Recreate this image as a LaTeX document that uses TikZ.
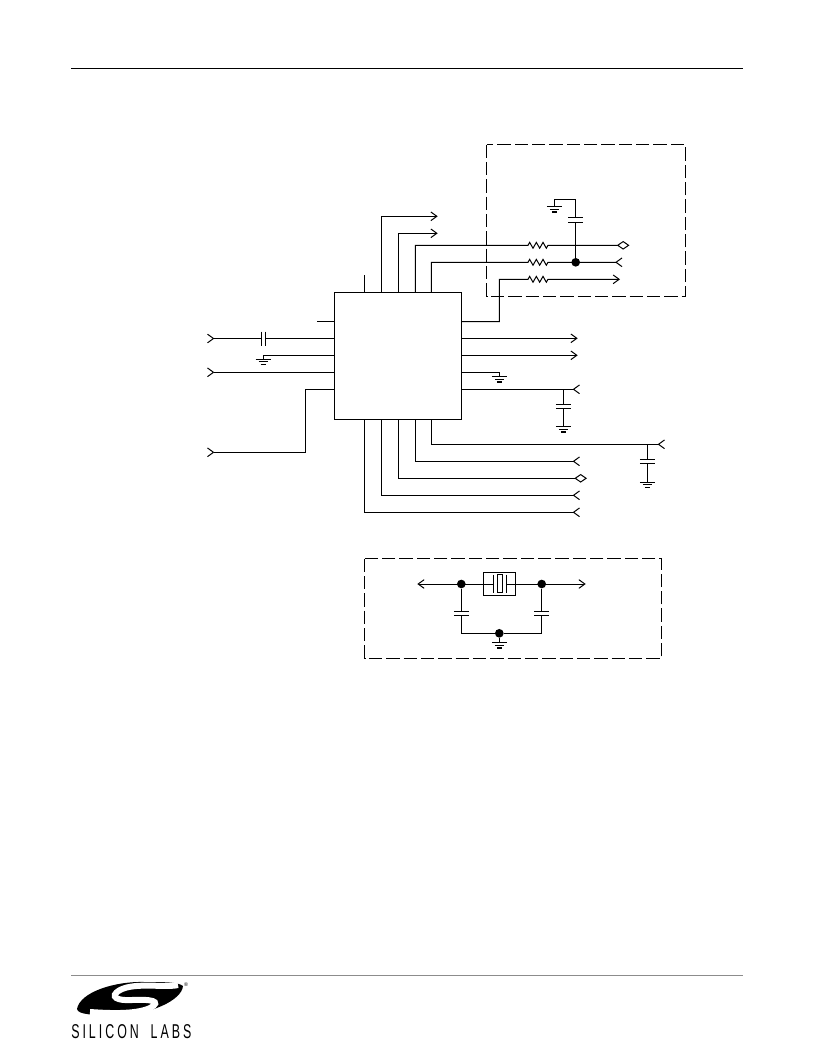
\documentclass[tikz,border=0pt]{standalone}
\usepackage{fontspec}
\setmainfont{Liberation Sans}
\newfontfamily\logofont[LetterSpace=15,FakeStretch=0.62]{Liberation Sans}
\usetikzlibrary{arrows.meta,decorations.pathmorphing,positioning,shapes.geometric}
\tikzset{
wire/.style={
  line width=0.75pt,
  },
outarrow/.style={
  wire,
  -{Straight Barb[length=4.5pt,width=6.5pt,line width=0.75pt]},
  },
inarrow/.style={
  wire,
  -{Straight Barb[reversed,length=4.5pt,width=6.5pt,line width=0.75pt]},
  },
bidiarrow/.style={
  wire,
  -{Diamond[open,length=9.5pt,width=6.5pt,line width=0.75pt]},
  },
chipbox/.style={
  rectangle,
  draw=black,
  line width=0.75pt,
  minimum width=95.8pt,
  minimum height=95.3pt,
  inner sep=0pt,
  },
dashbox/.style={
  draw=black,
  line width=0.75pt,
  dash pattern=on 10pt off 3pt,
  },
junction/.style={
  circle,
  fill=black,
  inner sep=0pt,
  minimum size=6.5pt,
  },
resistor/.style={
  decorate,
  decoration={zigzag,amplitude=2.2pt,segment length=5pt},
  },
gnd/.pic={
  \draw[wire] (-7.5,0) -- (7.5,0) (-4.5,2.7) -- (4.5,2.7);
  \draw[line width=1pt] (-2.5,5.4) -- (2.5,5.4);
  },
capv/.pic={
  \fill[white] (-7.5,-2.2) rectangle (7.5,2.2);
  \draw[wire] (-7.5,-2.2) -- (7.5,-2.2) (-7.5,2.2) -- (7.5,2.2);
  },
caph/.pic={
  \fill[white] (-2,-7) rectangle (2,7);
  \draw[wire] (-2,-7) -- (-2,7) (2,-7) -- (2,7);
  },
}

\begin{document}
\begin{tikzpicture}[x=0.75pt,y=-0.75pt]
    \useasboundingbox (0,0) rectangle (816,1056);

    % page rules
    \coordinate (ruletopl) at (71,69);
    \coordinate (ruletopr) at (743,69);
    \coordinate (rulebotl) at (71,975);
    \coordinate (rulebotr) at (743,975);
    \draw[line width=0.75pt] (ruletopl) -- (ruletopr);
    \draw[line width=0.75pt, color=black!45] (rulebotl) -- (rulebotr);

    % dashed boxes
    \draw[dashbox] (486.5,144.5) rectangle (685,296);
    \draw[dashbox] (364.5,558.7) rectangle (661.7,658.3);

    % chip
    \node[chipbox] (chip) at (398,356) {};
    \coordinate (pint1) at (364.3,292.5);
    \coordinate (pint2) at (381.3,292.5);
    \coordinate (pint3) at (398.3,292.5);
    \coordinate (pint4) at (415.3,292.5);
    \coordinate (pint5) at (431.3,292.5);
    \coordinate (pinb1) at (364.3,419.5);
    \coordinate (pinb2) at (381.3,419.5);
    \coordinate (pinb3) at (398.3,419.5);
    \coordinate (pinb4) at (415.3,419.5);
    \coordinate (pinb5) at (431.3,419.5);

    % left part
    \coordinate (nc1) at (317,321.5);
    \coordinate (inl1) at (207,338.5);
    \coordinate (gndl) at (263,359);
    \coordinate (gndlp) at (263,355.5);
    \coordinate (inl2) at (207,372.3);
    \coordinate (inl3) at (207,452.3);
    \coordinate (inl3k) at (305.3,452.3);
    \coordinate (pinl5) at (334.2,389.3);
    \draw[wire] (chip.west |- nc1) -- (nc1);
    \draw[inarrow] (chip.west |- inl1) -- (inl1);
    \draw[wire] (chip.west |- gndlp) -- (gndlp) -- (gndl);
    \draw[inarrow] (chip.west |- inl2) -- (inl2);
    \draw[inarrow] (pinl5) -| (inl3k) -- (inl3);
    \pic (capl) at (263,338.5) {caph};
    \pic (gnda) at (gndl) {gnd};

    % top part
    \coordinate (nc2) at (364.3,275);
    \coordinate (outt1) at (437.7,216.3);
    \coordinate (outt2) at (437.7,233.3);
    \draw[wire] (pint1) -- (nc2);
    \draw[outarrow] (pint2) |- (outt1);
    \draw[outarrow] (pint3) |- (outt2);

    % termination box
    \coordinate (res1a) at (528,245.3);
    \coordinate (res1b) at (548,245.3);
    \coordinate (res2a) at (528,262.3);
    \coordinate (res2b) at (548,262.3);
    \coordinate (res3a) at (528,279.3);
    \coordinate (res3b) at (548,279.3);
    \coordinate (term1) at (629.5,245.3);
    \coordinate (term2) at (622.5,262.3);
    \coordinate (term3) at (620,279.3);
    \coordinate (pinr1) at (461.7,321.5);
    \coordinate (gndr) at (554.3,206.7);
    \coordinate (capk) at (575.7,199.3);
    \node[junction] (jterm) at (575.7,262.3) {};
    \draw[bidiarrow] (pint4) |- (res1a) decorate[resistor] {-- (res1b)} -- (term1);
    \draw[inarrow] (pint5) |- (res2a) decorate[resistor] {-- (res2b)} -- (term2);
    \draw[outarrow] (pinr1) -| (499.3,279.3) -- (res3a) decorate[resistor] {-- (res3b)} -- (term3);
    \draw[wire] (jterm) -- (capk) -| (gndr);
    \pic (capt) at (575.7,220) {capv};
    \pic (gndb) at (gndr) {gnd};

    % right part
    \coordinate (outr1) at (577.7,338.3);
    \coordinate (outr2) at (577.7,355.3);
    \coordinate (gndc) at (499.3,376.7);
    \coordinate (inr1) at (580,389.3);
    \coordinate (capr) at (563.3,389.3);
    \draw[outarrow] (chip.east |- outr1) -- (outr1);
    \draw[outarrow] (chip.east |- outr2) -- (outr2);
    \draw[wire] (chip.east |- 0,372.3) -| (gndc);
    \draw[inarrow] (chip.east |- inr1) -- (inr1);
    \draw[wire] (capr) -- (563.3,426.7);
    \pic (capc) at (563.3,406.5) {capv};
    \pic (gndd) at (gndc) {gnd};
    \pic (gnde) at (563.3,426.7) {gnd};

    % bottom part
    \coordinate (inb1) at (665,444.3);
    \coordinate (inb2) at (580,461.3);
    \coordinate (inb3) at (587,478.3);
    \coordinate (inb4) at (580,495.3);
    \coordinate (inb5) at (580,512.3);
    \coordinate (capb) at (647.3,444.3);
    \draw[inarrow] (pinb5) |- (inb1);
    \draw[inarrow] (pinb4) |- (inb2);
    \draw[bidiarrow] (pinb3) |- (inb3);
    \draw[inarrow] (pinb2) |- (inb4);
    \draw[inarrow] (pinb1) |- (inb5);
    \draw[wire] (capb) -- (647.3,482);
    \pic (capd) at (647.3,461.5) {capv};
    \pic (gndf) at (647.3,482) {gnd};

    % crystal box
    \node[junction] (jxl) at (461.3,584) {};
    \node[junction] (jxr) at (541.7,584) {};
    \node[junction] (jxb) at (499.3,633.3) {};
    \node[draw, line width=0.75pt, minimum width=24.3pt, minimum height=17.2pt, inner sep=0pt] (xtal) at (499.5,583.8) {};
    \node[draw, line width=0.75pt, minimum width=4pt, minimum height=13.5pt, inner sep=0pt] (xtalin) at (499.8,583.8) {};
    \coordinate (xout) at (417.3,584);
    \coordinate (xoutr) at (585.7,584);
    \coordinate (gndx) at (499.3,642.7);
    \draw[outarrow] (xtal.west |- jxl) -- (xout);
    \draw[outarrow] (xtal.east |- jxr) -- (xoutr);
    \draw[wire] (xtal.west |- jxl) -- (493.3,584);
    \draw[wire] (xtal.east |- jxr) -- (506,584);
    \draw[wire] (493.3,574.7) -- (493.3,592.7);
    \draw[wire] (506,574.7) -- (506,592.7);
    \draw[wire] (jxl) |- (jxb);
    \draw[wire] (jxr) |- (jxb);
    \draw[wire] (jxb) -- (gndx);
    \pic (capxl) at (461.3,613.5) {capv};
    \pic (capxr) at (541.7,613.5) {capv};
    \pic (gndg) at (gndx) {gnd};

    % logo
    \fill[black] (77,1009) .. controls (80,992) and (115,981) .. (145,982)
        .. controls (165,982) and (178,982) .. (183,986)
        .. controls (182,1000) and (150,1016) .. (112,1015)
        .. controls (95,1015) and (78,1015) .. (77,1009) -- cycle;
    \draw[white, line width=4.5pt] (178,985) .. controls (165,988) and (135,982) .. (120,990)
        .. controls (108,997) and (118,1001) .. (132,1000)
        .. controls (150,999) and (163,1001) .. (150,1008)
        .. controls (135,1015) and (105,1013) .. (90,1012);
    \node[font=\fontsize{4}{4}\selectfont, inner sep=0pt] (regmark) at (186,985) {®};
    \node[font=\logofont\fontsize{15}{15}\selectfont, inner sep=0pt, anchor=west] (logotext) at (71,1032) {SILICON\hspace{4pt} LABS};
\end{tikzpicture}
\end{document}
